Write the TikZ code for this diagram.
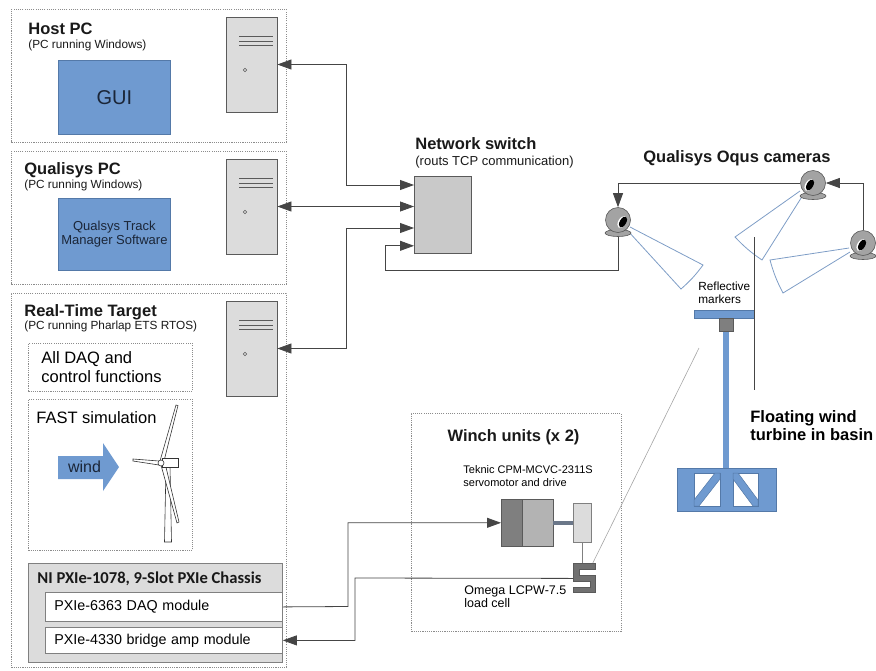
\documentclass[tikz,border=0pt]{standalone}
\usepackage{fontspec}
\setmainfont{Liberation Sans}
\newfontfamily\chassisfont{Carlito}
\usepackage{xcolor}
\usepackage{tikz}
\usetikzlibrary{shapes,arrows.meta,positioning,calc}

\definecolor{boxblue}{HTML}{6F9AD0}
\definecolor{boxedge}{HTML}{5479A8}
\definecolor{coneblue}{HTML}{7E9DC6}
\definecolor{dotgray}{HTML}{8C8C8C}
\definecolor{pcgray}{HTML}{DCDCDC}
\definecolor{pcedge}{HTML}{5A5A5A}
\definecolor{switchgray}{HTML}{C9C9C9}
\definecolor{wiregray}{HTML}{454545}
\definecolor{inkblue}{HTML}{1B2638}
\definecolor{camgray}{HTML}{A3A3A3}
\definecolor{motordark}{HTML}{7F7F7F}
\definecolor{motorlight}{HTML}{B3B3B3}
\definecolor{shaftgray}{HTML}{6B7789}
\definecolor{celldark}{HTML}{707070}

\begin{document}
\begin{tikzpicture}[x=1pt, y=-1pt, line width=0.8pt,
    >={Triangle[length=14pt, width=10pt]},
    group/.style={rectangle, draw=dotgray, dash pattern=on 1.1pt off 1.1pt, anchor=north west, inner sep=0pt},
    heading/.style={anchor=base west, inner sep=0pt, text=black!90, font=\fontsize{16.5}{19}\selectfont\bfseries},
    note/.style={anchor=base west, inner sep=0pt, text=black!90, font=\fontsize{11.8}{13}\selectfont},
    appbox/.style={rectangle, draw=boxedge, fill=boxblue, anchor=north west, text=inkblue, align=center, inner sep=0pt},
    tower/.style={rectangle, draw=pcedge, fill=pcgray, minimum width=51, minimum height=95, inner sep=0pt,
        path picture={
            \foreach \dy in {19,24,28}
                \draw[pcedge, line width=0.7pt] ([shift={(13,\dy)}]path picture bounding box.north west) -- ++(34,0);
            \draw[pcedge, line width=0.6pt] ([shift={(19,53)}]path picture bounding box.north west) circle (1.8);
        }},
    module/.style={rectangle, draw=gray, fill=white, anchor=north west, text width=219, inner xsep=9, inner ysep=0pt,
        align=left, font=\fontsize{14.3}{16}\selectfont},
    cam/.style={circle, draw=pcedge, fill=camgray, minimum size=25, inner sep=0pt, line width=0.6pt},
    part/.style={rectangle, anchor=north west, inner sep=0pt, draw=pcedge, line width=0.6pt},
    cellbox/.style={rectangle, anchor=north west, inner sep=0pt, minimum width=23, minimum height=30},
    link/.style={draw=wiregray, line width=0.8pt},
    cone/.style={draw=coneblue, line width=0.8pt}
]
    % Page size
    \useasboundingbox (0,0) rectangle (876,670);

    % Host PC
    \node[group, minimum width=275, minimum height=133] (host) at (11,9) {};
    \node[heading] (hosttitle) at (28,34) {Host PC};
    \node[note] (hostsub) at (28,48) {(PC running Windows)};
    \node[appbox, minimum width=112, minimum height=74, font=\fontsize{20}{24}\selectfont] (gui) at (58,60) {GUI};
    \node[tower] (htower) at (251.5,64.5) {};

    % Qualisys PC
    \node[group, minimum width=275, minimum height=133] (qpc) at (11,151) {};
    \node[heading] (qpctitle) at (24,174) {Qualisys PC};
    \node[note] (qpcsub) at (24,188) {(PC running Windows)};
    \node[appbox, minimum width=112, minimum height=72, font=\fontsize{13}{14}\selectfont] (qtm) at (58,198) {Qualsys Track\\Manager Software};
    \node[tower] (qtower) at (251.5,206.5) {};

    % Real-Time Target
    \node[group, minimum width=275, minimum height=374] (rtt) at (11,293) {};
    \node[heading] (rtttitle) at (24,316) {Real-Time Target};
    \node[note] (rttsub) at (24,329) {(PC running Pharlap ETS RTOS)};
    \node[tower] (rtower) at (251.5,348.5) {};

    \node[group, minimum width=164, minimum height=48] (daqfun) at (28,343) {};
    \node[anchor=base west, inner sep=0pt, align=left, font=\fontsize{16.5}{19}\selectfont] (daqtext) at (41,382) {All DAQ and\\control functions};

    \node[group, minimum width=164, minimum height=151] (fast) at (28,399) {};
    \node[anchor=base west, inner sep=0pt, font=\fontsize{16.5}{19}\selectfont] (fasttext) at (36,423) {FAST simulation};
    \fill[boxblue] (58,456) -- (103,456) -- (103,443) -- (119,467) -- (103,491) -- (103,479) -- (58,479) -- cycle;
    \node[inner sep=0pt, text=inkblue, font=\fontsize{16}{18}\selectfont] (windtext) at (84.5,467) {wind};

    % small turbine sketch
    \begin{scope}[fill=white, draw=black!80, line width=0.6pt]
        \filldraw (164.5,542) -- (171.5,542) -- (170,466) -- (166,466) -- cycle;
        \filldraw (161,465) -- (177,523) -- (179,522) -- (165,463) -- cycle;
        \filldraw (160,461) -- (176,405) -- (178,405.5) -- (164,461) -- cycle;
        \filldraw (162,458) rectangle (178,467);
        \filldraw (159,461) -- (133,459) -- (133,461) -- (159,465) -- cycle;
        \filldraw (161,463) circle (3);
    \end{scope}

    % NI chassis
    \node[rectangle, draw=gray, fill=pcgray, anchor=north west, minimum width=254, minimum height=99, inner sep=0pt] (chassis) at (28,563) {};
    \node[anchor=base west, inner sep=0pt, text=black!90, font=\chassisfont\fontsize{16.6}{18}\selectfont\bfseries] (chassistitle) at (37,583) {NI PXIe-1078, 9-Slot PXIe Chassis};
    \node[module, minimum height=29] (daq) at (45,592) {PXIe-6363 DAQ module};
    \node[module, minimum height=26] (bridge) at (45,627) {PXIe-4330 bridge amp module};

    % Network switch
    \node[rectangle, draw=pcedge, fill=switchgray, anchor=north west, minimum width=57, minimum height=77, inner sep=0pt] (switch) at (414,176) {};
    \node[heading] (switchtitle) at (415,149) {Network switch};
    \node[note, font=\fontsize{13}{15}\selectfont] (switchsub) at (415,165) {(routs TCP communication)};

    % Camera fields of view
    \draw[cone] (630,227) -- (703,265) to[bend left=6] (681,289) -- (628,231);
    \draw[cone] (800,191) -- (735,237) to[bend right=6] (762,260) -- (803,195);
    \draw[cone] (849,248) -- (770,260) to[bend right=6] (783,293) -- (850,252);
    \node[heading] (camtitle) at (643,162) {Qualisys Oqus cameras};

    % Cameras
    \foreach \cam/\cx/\cy/\lx in {cam1/618/220/5, cam2/813/183/-3, cam3/863/243/-1} {
        \filldraw[fill=camgray, draw=pcedge, line width=0.6pt] (\cx,\cy+13) ellipse [x radius=13, y radius=3.5];
        \node[cam] (\cam) at (\cx,\cy) {};
        \fill[white, rotate around={-30:(\cx+\lx-1,\cy+2)}] (\cx+\lx-1,\cy+2) ellipse [x radius=3.8, y radius=6.5];
        \fill[black, rotate around={-30:(\cx+\lx,\cy+2)}] (\cx+\lx,\cy+2) ellipse [x radius=3.2, y radius=6];
    }

    % Floating turbine
    \fill[boxblue] (723,331) rectangle (729,468);
    \node[rectangle, fill=boxblue, draw=boxedge, line width=0.5pt, anchor=north west, minimum width=60, minimum height=8, inner sep=0pt] (markers) at (694,310) {};
    \node[part, fill=motordark, minimum width=14, minimum height=13] (mount) at (719,318) {};
    \node[rectangle, fill=boxblue, draw=boxedge, line width=0.5pt, anchor=north west, minimum width=99, minimum height=43, inner sep=0pt] (platform) at (677,468) {};
    \begin{scope}[draw=boxedge, line width=0.5pt]
        \filldraw[fill=white] (694,473) rectangle (720,506);
        \filldraw[fill=white] (733,473) rectangle (758,506);
        \filldraw[fill=boxblue] (715,473) -- (720,473) -- (720,479) -- (699,506) -- (694,506) -- (694,500) -- cycle;
        \filldraw[fill=boxblue] (738,473) -- (733,473) -- (733,479) -- (753,506) -- (758,506) -- (758,500) -- cycle;
    \end{scope}
    \draw[wiregray] (markers.east |- 0,237) -- (markers.east |- 0,390);
    \node[anchor=base west, inner sep=0pt, align=left, font=\fontsize{11.8}{13}\selectfont] (markertext) at (698,303) {Reflective\\markers};
    \node[anchor=base west, inner sep=0pt, align=left, font=\fontsize{16.5}{18}\selectfont\bfseries] (basintext) at (750,440) {Floating wind\\turbine in basin};

    % Winch unit
    \node[group, minimum width=210, minimum height=218] (winch) at (411,413) {};
    \node[heading, anchor=base] (winchtitle) at (513.5,441) {Winch units (x 2)};
    \node[anchor=base west, inner sep=0pt, align=left, font=\fontsize{11}{12.5}\selectfont] (teknictext) at (463,486) {Teknic CPM-MCVC-2311S\\servomotor and drive};
    \node[part, fill=motordark, minimum width=21, minimum height=47] (drive) at (501,499) {};
    \node[part, fill=motorlight, minimum width=31, minimum height=47] (motor) at (522,499) {};
    \node[part, fill=shaftgray, draw=none, minimum width=20, minimum height=4] (shaft) at (553,521) {};
    \node[part, fill=pcgray, draw=gray, minimum width=18, minimum height=39] (drum) at (573,503) {};
    \node[cellbox] (lcell) at (573,563) {};
    % S-beam load cell body
    \begin{scope}[shift={(lcell.north west)}]
        \filldraw[fill=celldark, draw=pcedge, line width=0.6pt]
            (0.5,0.5) -- (22.5,0.5) -- (22.5,6) -- (6,6) -- (6,12) -- (22.5,12) -- (22.5,29.5)
            -- (0.5,29.5) -- (0.5,24) -- (17,24) -- (17,18) -- (0.5,18) -- cycle;
    \end{scope}
    \draw[gray, line width=0.6pt] (drum.south) -- (drum.south |- lcell.north);
    \node[anchor=base west, inner sep=0pt, align=left, font=\fontsize{12.5}{13}\selectfont] (omegatext) at (464,607) {Omega LCPW-7.5\\load cell};

    % Tether
    \coordinate (hook) at (699,348);
    \draw[gray!70, line width=0.6pt] ([xshift=-4pt]lcell.north east) -- (hook);

    % Network links
    \draw[link, <->] (htower.east) -- (346,64.5) |- ($(switch.north west)+(0,9)$);
    \draw[link, <->] (qtower.east) -- (qtower.east -| switch.west);
    \draw[link, <->] (rtower.east) -- (346,348.5) |- ($(switch.north west)+(0,52)$);
    \draw[link, ->] (lcell.west) -- (355,578) |- (bridge.east);
    \draw[link, ->] (daq.east) -- (348,606.5) |- (drive.west);

    % Camera chain
    \draw[link, ->] ([yshift=-4pt]cam1.south) |- (385,270) |- ($(switch.south west)+(0,-8)$);
    \draw[link, ->] (cam2.west) -| (cam1.north);
    \draw[link, ->] (cam3.north) |- (cam2.east);
\end{tikzpicture}
\end{document}
